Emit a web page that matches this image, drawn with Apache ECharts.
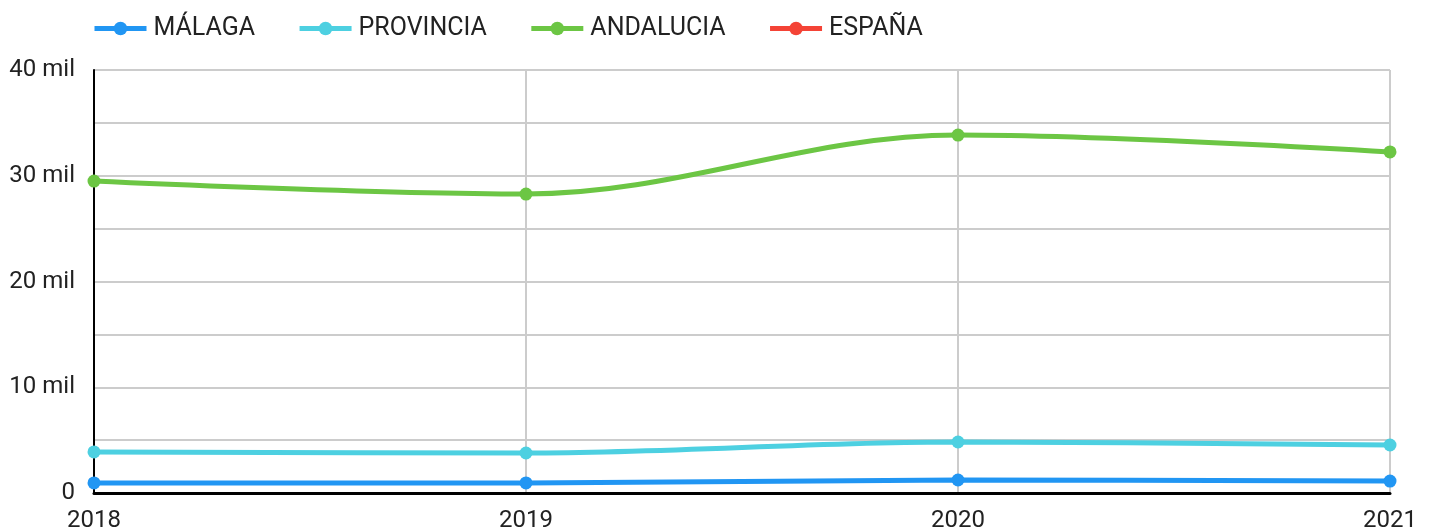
<!DOCTYPE html>
<html>
<head>
<meta charset="utf-8">
<script src="https://cdn.jsdelivr.net/npm/echarts@6/dist/echarts.min.js"></script>
<style>
  html, body { margin: 0; padding: 0; background: #fff; }
  #chart { width: 1431px; height: 530px; }
</style>
</head>
<body>
<div id="chart"></div>
<script>
  // datos
  const years = ['2018', '2019', '2020', '2021']
  const malaga = [950, 950, 1230, 1130]
  const provincia = [3880, 3780, 4820, 4540]
  const andalucia = [29500, 28270, 33850, 32250]
  const espana = [null, null, null, null]

  const colors = ['#2196f3', '#4dd0e1', '#6cc644', '#f44336']

  function makeSeries(name, data, color) {
    return {
      name: name,
      type: 'line',
      data: data,
      smooth: 0.35,
      symbol: 'circle',
      symbolSize: 13,
      lineStyle: { width: 5, color: color },
      itemStyle: { color: color }
    }
  }

  const myChart = echarts.init(document.getElementById('chart'))
  myChart.setOption({
    animation: false,
    color: colors,
    textStyle: { fontFamily: 'Roboto' },
    legend: {
      left: 87,
      top: 11,
      itemWidth: 52,
      itemHeight: 17,
      itemGap: 42,
      lineStyle: { width: 5 },
      textStyle: { fontSize: 25, color: '#222', fontFamily: 'Roboto', padding: [0, 0, 0, 2] }
    },
    grid: {
      left: 94, right: 41, top: 70, bottom: 37,
      containLabel: false,
      outerBoundsMode: 'none'
    },
    xAxis: {
      type: 'category',
      data: years,
      boundaryGap: false,
      axisLine: { lineStyle: { color: '#000', width: 3 } },
      axisTick: { show: false },
      splitLine: { show: true, lineStyle: { color: '#ccc', width: 2 } },
      axisLabel: { fontSize: 24, color: '#222', margin: 16 }
    },
    yAxis: {
      type: 'value',
      min: 0,
      max: 40000,
      interval: 5000,
      axisLine: { show: true, lineStyle: { color: '#000', width: 2 } },
      axisTick: { show: false },
      splitLine: { lineStyle: { color: '#ccc', width: 2 } },
      axisLabel: {
        fontSize: 24,
        color: '#222',
        margin: 19,
        formatter: function (v) {
          if (v % 10000 !== 0) return ''
          return v === 0 ? '0' : (v / 1000) + ' mil'
        }
      }
    },
    series: [
      makeSeries('MÁLAGA', malaga, colors[0]),
      makeSeries('PROVINCIA', provincia, colors[1]),
      makeSeries('ANDALUCIA', andalucia, colors[2]),
      makeSeries('ESPAÑA', espana, colors[3])
    ]
  })
</script>
</body>
</html>
